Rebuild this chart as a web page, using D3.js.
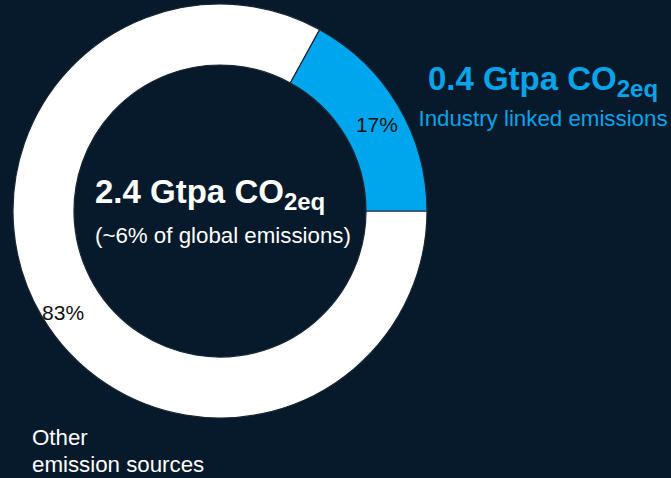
<!DOCTYPE html>
<html>
<head>
<meta charset="utf-8">
<script src="https://cdn.jsdelivr.net/npm/d3@7"></script>
<style>
    html, body { margin: 0; padding: 0; background: #061a2b; }
    svg { display: block; font-family: "Liberation Sans", Arial, sans-serif; }
</style>
</head>
<body>
<div id="chart"></div>
<script>
// Data
const categories = ['Other emission sources', 'Industry linked emissions'];
const shares = [83, 17];
const shareLabels = ['83%', '17%'];
const totalLabel = '2.4 Gtpa CO';
const totalNote = '(~6% of global emissions)';
const industryLabel = '0.4 Gtpa CO';
const subscript = '2eq';

const width = 671;
const height = 478;
const colors = { bg: '#061a2b', white: '#ffffff', blue: '#00a6ed', text: '#08a4ea' };

const svg = d3.select('#chart').append('svg')
    .attr('width', width)
    .attr('height', height);

svg.append('rect')
    .attr('width', width)
    .attr('height', height)
    .attr('fill', colors.bg);

// Donut geometry
const cx = 220, cy = 211;
const rOuter = 207, rInner = 146;

const g = svg.append('g')
    .attr('transform', `translate(${cx},${cy})`);

const pie = d3.pie()
    .sort(null)
    .startAngle(Math.PI / 2)
    .endAngle(Math.PI / 2 + 2 * Math.PI);

const arcs = pie(shares);

const arc = d3.arc()
    .innerRadius(rInner)
    .outerRadius(rOuter);

const fill = d3.scaleOrdinal()
    .domain(categories)
    .range([colors.white, colors.blue]);

g.selectAll('path.slice')
    .data(arcs)
    .enter().append('path')
    .attr('class', 'slice')
    .attr('d', arc)
    .attr('fill', (d, i) => fill(categories[i]))
    .attr('stroke', '#1a2633')
    .attr('stroke-width', 1.2);

// Percentage labels (small nudges to sit like the original)
const labelNudge = [[-5, 12], [5, 3]];
g.selectAll('text.pct')
    .data(arcs)
    .enter().append('text')
    .attr('class', 'pct')
    .attr('x', (d, i) => arc.centroid(d)[0] + labelNudge[i][0])
    .attr('y', (d, i) => arc.centroid(d)[1] + labelNudge[i][1])
    .attr('dy', '0.35em')
    .attr('text-anchor', 'middle')
    .style('font-size', '21px')
    .style('fill', '#111')
    .text((d, i) => shareLabels[i]);

// Centre label
const centre = g.append('text')
    .attr('x', -125)
    .attr('y', -8)
    .style('fill', '#fff')
    .style('font-weight', 'bold')
    .style('font-size', '33px');
centre.append('tspan').text(totalLabel);
centre.append('tspan')
    .attr('dy', 7)
    .style('font-size', '24px')
    .text(subscript);

g.append('text')
    .attr('x', -125)
    .attr('y', 32)
    .style('fill', '#fff')
    .style('font-size', '22.3px')
    .text(totalNote);

// Industry annotation
const ann = svg.append('text')
    .attr('x', 543)
    .attr('y', 90)
    .attr('text-anchor', 'middle')
    .style('fill', colors.text)
    .style('font-weight', 'bold')
    .style('font-size', '33px');
ann.append('tspan').text(industryLabel);
ann.append('tspan')
    .attr('dy', 7)
    .style('font-size', '24px')
    .text(subscript);

svg.append('text')
    .attr('x', 543)
    .attr('y', 126)
    .attr('text-anchor', 'middle')
    .style('fill', colors.text)
    .style('font-size', '22.3px')
    .text(categories[1]);

// Other sources annotation
const other = svg.append('text')
    .attr('x', 32)
    .attr('y', 445)
    .style('fill', '#fff')
    .style('font-size', '22.3px');
other.append('tspan').attr('x', 32).text('Other');
other.append('tspan').attr('x', 32).attr('dy', 27).text('emission sources');
</script>
</body>
</html>
